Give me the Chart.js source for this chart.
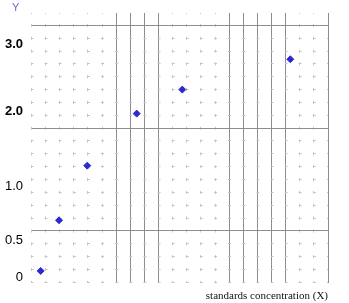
<!DOCTYPE html>
<html><head><meta charset="utf-8">
<script src="https://cdn.jsdelivr.net/npm/chart.js@4/dist/chart.umd.min.js"></script>
<style>html,body{margin:0;padding:0;background:#fff;}canvas{display:block;}</style>
</head><body>
<canvas id="c" width="349" height="303"></canvas>
<script>
// Values (x in paper columns, y in paper rows)
const xValues = [0.65, 1.95, 3.95, 7.45, 10.68, 18.33];
const yValues = [-3.11, 0.83, 5.08, 9.13, 11.0, 13.36];
// Y axis labels and where they sit on the paper
const yTickValues = [-3.63, -0.70, 3.45, 9.28, 14.55];
const yTickLabels = ['0', '0.5', '1.0', '2.0', '3.0'];
const boldTickLabels = ['2.0', '3.0'];
// Paper extent and the ruled (solid) lines
const xRange = [0, 21];
const yRange = [-4.05, 16.96];
const xMajorLines = [6, 7, 8, 9, 14, 15, 16, 17, 18, 21];
const yMajorLines = [0, 8, 16];
const xTitle = 'standards concentration (X)';
const yTitle = 'Y';

const MAJOR = '#8e8e8e';
const MINOR = '#c6c6c6';

function intTicks(scale) {
  const t = [];
  for (let v = Math.ceil(scale.min - 1e-9); v <= Math.floor(scale.max + 1e-9); v++) t.push({value: v});
  scale.ticks = t;
}
function isMajor(list, ctx) { return ctx.tick && list.includes(Math.round(ctx.tick.value)); }

new Chart(document.getElementById('c'), {
  type: 'scatter',
  data: {
    datasets: [{
      data: xValues.map((x, i) => ({x: x, y: yValues[i]})),
      xAxisID: 'x',
      yAxisID: 'y',
      pointStyle: 'rectRot',
      pointRadius: 3.5,
      pointBorderWidth: 1,
      backgroundColor: '#2a2ad0',
      borderColor: '#2a2ad0',
      showLine: false
    }]
  },
  options: {
    responsive: false,
    animation: false,
    layout: {padding: {left: 12, right: 21, top: 0, bottom: 0}},
    plugins: {
      legend: {display: false},
      tooltip: {enabled: false},
      title: {
        display: true, text: yTitle, align: 'start', position: 'top',
        color: '#6a6ad6',
        font: {family: 'Liberation Sans', size: 11, weight: 'normal', lineHeight: 1},
        padding: {top: 2, bottom: 0}
      }
    },
    scales: {
      x: {
        type: 'linear', position: 'bottom',
        min: xRange[0], max: xRange[1],
        afterBuildTicks: intTicks,
        ticks: {display: false},
        grid: {
          drawTicks: false,
          color: ctx => isMajor(xMajorLines, ctx) ? MAJOR : MINOR,
          lineWidth: 1
        },
        border: {
          display: false,
          dash: ctx => isMajor(xMajorLines, ctx) ? [] : [3, 9.85],
          dashOffset: 1.95
        },
        title: {
          display: true, text: xTitle, align: 'end', color: '#111',
          font: {family: 'Liberation Serif', size: 11, lineHeight: 1.2},
          padding: {top: 6.8, bottom: 0}
        }
      },
      yGrid: {
        type: 'linear', position: 'left',
        min: yRange[0], max: yRange[1],
        afterBuildTicks: intTicks,
        ticks: {display: false},
        grid: {
          drawTicks: false,
          color: ctx => isMajor(yMajorLines, ctx) ? MAJOR : MINOR,
          lineWidth: 1
        },
        border: {
          display: false,
          dash: ctx => isMajor(yMajorLines, ctx) ? [] : [3, 11.12],
          dashOffset: 1.5
        },
        afterFit: s => { s.width = 0; s.paddingTop = 0; s.paddingBottom = 0; }
      },
      y: {
        type: 'linear', position: 'left',
        min: yRange[0], max: yRange[1],
        afterBuildTicks: s => { s.ticks = yTickValues.map(v => ({value: v})); },
        ticks: {
          autoSkip: false,
          mirror: true,
          crossAlign: 'far',
          padding: -26.5,
          color: '#000',
          callback: (v, i) => yTickLabels[i],
          font: ctx => ({
            family: 'Liberation Sans', size: 13,
            weight: (ctx.tick && boldTickLabels.includes(yTickLabels[ctx.index])) ? 'bold' : 'normal'
          })
        },
        grid: {display: false, drawTicks: false},
        border: {display: false},
        afterFit: s => { s.width = 19.5; s.paddingTop = 0; s.paddingBottom = 0; }
      }
    }
  }
});
</script>
</body></html>
